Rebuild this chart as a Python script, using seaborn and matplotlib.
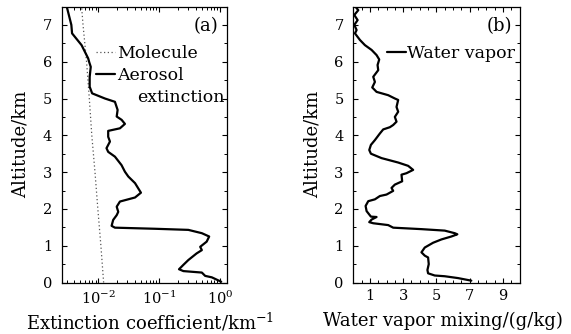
import matplotlib
matplotlib.use("Agg")
import matplotlib.pyplot as plt
import seaborn as sns
import pandas as pd
from matplotlib.ticker import MultipleLocator, LogLocator, NullFormatter, FixedLocator

# ---------------- data ----------------
mol_alt = [0.0, 1.0, 2.0, 3.0, 4.0, 5.0, 6.0, 7.0, 7.5]
mol_ext = [0.0122, 0.0110, 0.0098, 0.0088, 0.0078, 0.0071, 0.0064, 0.0056, 0.0053]

aer_alt = [7.52, 7.0, 6.77, 6.45, 6.09, 5.98, 5.86, 5.59, 5.32, 5.14, 5.0, 4.91, 4.69,
           4.51, 4.42, 4.31, 4.19, 4.12, 3.96, 3.83, 3.65, 3.55, 3.42, 3.19, 3.01,
           2.88, 2.70, 2.44, 2.31, 2.20, 2.06, 1.92, 1.83, 1.70, 1.54, 1.49, 1.46,
           1.43, 1.34, 1.25, 1.11, 0.97, 0.88, 0.79, 0.61, 0.48, 0.36, 0.31, 0.27,
           0.18, 0.14, 0.02]
aer_ext = [0.0030, 0.0036, 0.0037, 0.0053, 0.0068, 0.0071, 0.0075, 0.0072, 0.0072,
           0.0079, 0.0128, 0.0187, 0.0207, 0.0200, 0.0241, 0.0273, 0.0226, 0.0145,
           0.0145, 0.0155, 0.0136, 0.0145, 0.0187, 0.0240, 0.0273, 0.031, 0.040,
           0.050, 0.040, 0.0226, 0.020, 0.0212, 0.020, 0.0175, 0.0165, 0.0187,
           0.085, 0.30, 0.50, 0.66, 0.60, 0.47, 0.50, 0.41, 0.30, 0.249, 0.211,
           0.249, 0.50, 0.567, 0.73, 1.04]

wv_alt = [7.51, 7.40, 7.27, 7.13, 7.0, 6.86, 6.77, 6.59, 6.45, 6.32, 6.18, 6.06, 5.91,
          5.77, 5.59, 5.45, 5.30, 5.18, 5.09, 5.0, 4.96, 4.77, 4.64, 4.50, 4.37,
          4.28, 4.22, 4.16, 4.05, 3.87, 3.74, 3.60, 3.50, 3.38, 3.26, 3.17, 3.06,
          2.97, 2.93, 2.75, 2.66, 2.57, 2.49, 2.39, 2.35, 2.26, 2.21, 2.08, 1.94,
          1.79, 1.78, 1.71, 1.64, 1.61, 1.56, 1.49, 1.45, 1.41, 1.34, 1.31, 1.25,
          1.17, 1.08, 0.95, 0.82, 0.73, 0.68, 0.50, 0.34, 0.25, 0.19, 0.17, 0.12,
          0.05]
wv_mix = [0.1, 0.3, 0.06, 0.26, 0.06, 0.2, 0.1, 0.4, 0.7, 1.1, 1.4, 1.56, 1.46,
          1.5, 1.2, 1.3, 1.14, 1.4, 2.1, 2.5, 2.7, 2.6, 2.7, 2.5, 2.6,
          2.4, 2.2, 1.8, 1.6, 1.3, 1.06, 0.96, 1.06, 1.7, 2.7, 3.3, 3.6,
          3.2, 2.9, 2.94, 2.5, 2.3, 2.4, 2.0, 1.6, 1.3, 0.9, 0.74, 0.8,
          1.06, 1.4, 1.1, 0.96, 1.2, 2.1, 2.4, 4.1, 5.5, 6.1, 6.26, 5.9,
          5.3, 4.8, 4.3, 4.1, 4.3, 4.5, 4.54, 4.46, 4.5, 4.9, 5.5, 6.3,
          7.1]

y_ticks = [0, 1, 2, 3, 4, 5, 6, 7]
wv_ticks = [1, 3, 5, 7, 9]

# ---------------- style ----------------
sns.set_theme(style="ticks")
plt.rcParams['font.family'] = ['DejaVu Serif']
plt.rcParams['mathtext.fontset'] = 'dejavuserif'
plt.rcParams.update({
    'xtick.direction': 'in', 'ytick.direction': 'in',
    'xtick.top': True, 'ytick.right': True,
    'xtick.major.size': 3.5, 'ytick.major.size': 3.5,
    'xtick.minor.size': 2, 'ytick.minor.size': 2,
    'xtick.major.width': 0.8, 'ytick.major.width': 0.8,
    'xtick.minor.width': 0.7, 'ytick.minor.width': 0.7,
    'axes.linewidth': 0.9,
    'axes.edgecolor': 'black',
    'text.color': 'black', 'axes.labelcolor': 'black',
    'xtick.color': 'black', 'ytick.color': 'black',
    'xtick.labelsize': 10.5, 'ytick.labelsize': 10.5,
})

fig = plt.figure(figsize=(5.71, 3.34), dpi=100)
W, H = 571, 334
def axrect(l, r, t, b):
    return [l / W, 1 - b / H, (r - l) / W, (b - t) / H]

ax1 = fig.add_axes(axrect(61.7, 226.7, 6.5, 282.5))
ax2 = fig.add_axes(axrect(353.3, 519.5, 6.5, 282.5))

df_mol = pd.DataFrame({'alt': mol_alt, 'ext': mol_ext})
df_aer = pd.DataFrame({'alt': aer_alt, 'ext': aer_ext})
df_wv = pd.DataFrame({'alt': wv_alt, 'mix': wv_mix})

sns.lineplot(data=df_mol, x='ext', y='alt', ax=ax1, sort=False, estimator=None,
             color='#555555', linestyle=(0, (1, 2)), linewidth=0.9, label='Molecule')
sns.lineplot(data=df_aer, x='ext', y='alt', ax=ax1, sort=False, estimator=None,
             color='black', linewidth=1.6, label='Aerosol')
sns.lineplot(data=df_wv, x='mix', y='alt', ax=ax2, sort=False, estimator=None,
             color='black', linewidth=1.6, label='Water vapor')

# panel a axes
ax1.set_xscale('log')
ax1.set_xlim(0.0025, 1.28)
ax1.xaxis.set_major_locator(FixedLocator([0.01, 0.1, 1.0]))
ax1.xaxis.set_minor_locator(LogLocator(base=10, subs=range(2, 10), numticks=20))
ax1.xaxis.set_minor_formatter(NullFormatter())
ax1.set_xticklabels([r'$10^{-2}$', r'$10^{-1}$', r'$10^{0}$'])

for ax in (ax1, ax2):
    ax.set_ylim(0, 7.5)
    ax.set_yticks(y_ticks)
    ax.yaxis.set_minor_locator(MultipleLocator(0.5))
    ax.set_ylabel('Altitude/km', fontsize=13, labelpad=9)
    ax.tick_params(axis='both', which='both', top=True, right=True)
    ax.tick_params(axis='x', pad=5)
    ax.tick_params(axis='y', pad=7)

ax2.set_xlim(0, 10)
ax2.set_xticks(wv_ticks)
ax2.xaxis.set_minor_locator(MultipleLocator(0.5))

ax1.set_xlabel('Extinction coefficient/km$^{-1}$', fontsize=13)
ax2.set_xlabel('Water vapor mixing/(g/kg)', fontsize=13)
ax1.xaxis.set_label_coords(0.535, -0.105)
ax2.xaxis.set_label_coords(0.54, -0.105)

# panel labels
ax1.text(0.947, 0.96, '(a)', transform=ax1.transAxes, ha='right', va='top', fontsize=13)
ax2.text(0.955, 0.96, '(b)', transform=ax2.transAxes, ha='right', va='top', fontsize=13)

# legends
leg1 = ax1.legend(loc='upper left', bbox_to_anchor=(0.21, 0.862), frameon=False,
                  handlelength=1.1, handletextpad=0.1, borderpad=0, borderaxespad=0,
                  labelspacing=0.3, fontsize=12.5)
ax1.text(0.455, 0.672, 'extinction', transform=ax1.transAxes, ha='left', va='center',
         fontsize=12.5)
leg2 = ax2.legend(loc='upper left', bbox_to_anchor=(0.2, 0.862), frameon=False,
                  handlelength=1.1, handletextpad=0.1, borderpad=0, borderaxespad=0,
                  fontsize=12.5)

fig.savefig('out.png', dpi=100)
